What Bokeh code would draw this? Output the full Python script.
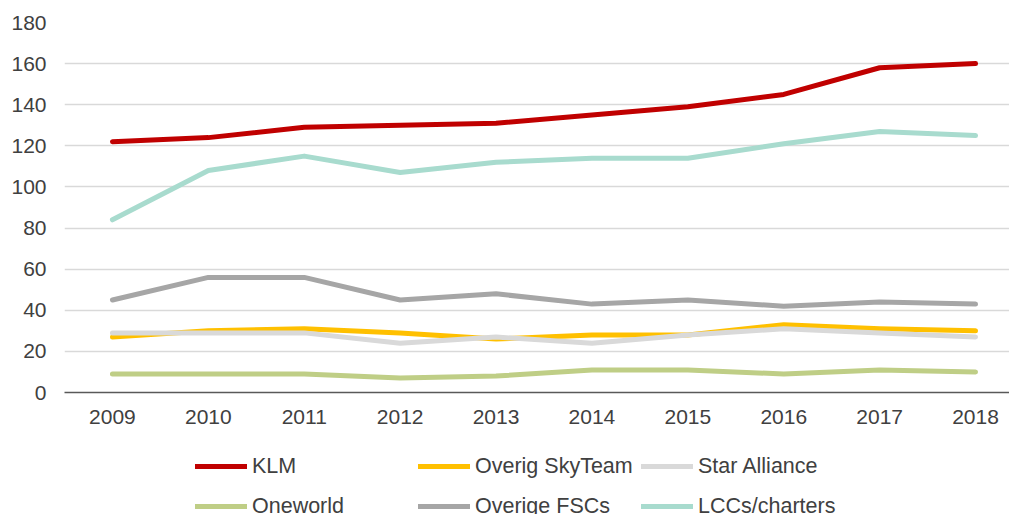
from bokeh.plotting import figure
from bokeh.layouts import column
from bokeh.models import Range1d, FixedTicker, Legend, LegendItem
from bokeh.embed import file_html
from bokeh.resources import INLINE

years = [2009, 2010, 2011, 2012, 2013, 2014, 2015, 2016, 2017, 2018]
klm = [122, 124, 129, 130, 131, 135, 139, 145, 158, 160]
skyteam = [27, 30, 31, 29, 26, 28, 28, 33, 31, 30]
star = [29, 29, 29, 24, 27, 24, 28, 31, 29, 27]
oneworld = [9, 9, 9, 7, 8, 11, 11, 9, 11, 10]
fscs = [45, 56, 56, 45, 48, 43, 45, 42, 44, 43]
lccs = [84, 108, 115, 107, 112, 114, 114, 121, 127, 125]
y_ticks = [0, 20, 40, 60, 80, 100, 120, 140, 160, 180]

series = [
    ("KLM", klm, "#C00000"),
    ("Overig SkyTeam", skyteam, "#FFC000"),
    ("Star Alliance", star, "#D9D9D9"),
    ("Oneworld", oneworld, "#BFCE86"),
    ("Overige FSCs", fscs, "#A6A6A6"),
    ("LCCs/charters", lccs, "#A8DBCE"),
]

FONT = "Liberation Sans"
TXT = "#404040"
W = 1009
NAN = float("nan")

p = figure(width=W, height=440, output_backend="svg", toolbar_location=None,
           x_range=Range1d(2008.5, 2018.354), y_range=Range1d(0, 180),
           min_border_left=64, min_border_right=0, min_border_top=22,
           min_border_bottom=48)
p.outline_line_color = None
p.background_fill_color = None
p.border_fill_color = "white"

for name, vals, col in series:
    p.line(years, vals, line_color=col, line_width=5,
           line_cap="round", line_join="round")

p.xaxis.ticker = FixedTicker(ticks=years)
p.yaxis.ticker = FixedTicker(ticks=y_ticks)
p.xgrid.grid_line_color = None
p.ygrid.grid_line_color = "#D9D9D9"
p.ygrid.grid_line_width = 1.3

for ax in (p.xaxis[0], p.yaxis[0]):
    ax.major_tick_line_color = None
    ax.minor_tick_line_color = None
    ax.major_tick_out = 0
    ax.minor_tick_out = 0
    ax.major_label_text_font = FONT
    ax.major_label_text_font_size = "21px"
    ax.major_label_text_color = TXT
p.yaxis.axis_line_color = None
p.yaxis.major_label_standoff = 18
p.xaxis.axis_line_color = "#595959"
p.xaxis.axis_line_width = 1.6
p.xaxis.major_label_standoff = 17

# legend figure
lg = figure(width=W, height=74, output_backend="svg", toolbar_location=None,
            x_range=Range1d(0, 1), y_range=Range1d(0, 1),
            x_axis_location=None, y_axis_location=None,
            min_border_left=0, min_border_right=0, min_border_top=0,
            min_border_bottom=0)
lg.outline_line_color = None
lg.grid.visible = False
lg.border_fill_color = "white"
lg.background_fill_color = "white"

items = []
for name, vals, col in series:
    r = lg.line([NAN, NAN], [NAN, NAN], line_color=col, line_width=5,
                line_cap="round")
    items.append(LegendItem(label=name, renderers=[r]))

legend = Legend(items=items, orientation="horizontal", ncols=3,
                location=(131, -12), padding=0, margin=0, spacing=0,
                glyph_width=52, glyph_height=40, label_height=40,
                label_width=166, label_standoff=5,
                label_text_font=FONT, label_text_font_size="21.5px",
                label_text_color=TXT, border_line_color=None,
                background_fill_alpha=0)
lg.add_layout(legend, "center")

layout = column(p, lg, spacing=0)
open("out.html", "w").write(file_html(layout, INLINE))
